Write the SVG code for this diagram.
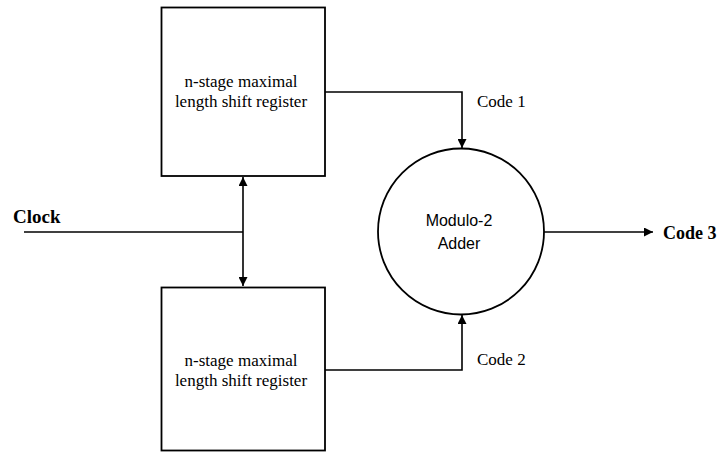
<svg xmlns="http://www.w3.org/2000/svg" width="720" height="452" viewBox="0 0 720 452">
  <style>
    .box { fill: #fff; stroke: #000; stroke-width: 1.8; }
    .wire { fill: none; stroke: #000; stroke-width: 1.6; }
    .serif { font-family: "Liberation Serif", "Times New Roman", serif; fill: #000; }
    .sans { font-family: "Liberation Sans", Arial, sans-serif; fill: #000; }
  </style>
  <defs>
    <marker id="arrow" viewBox="0 0 10 10" refX="10" refY="5" markerWidth="9" markerHeight="9" markerUnits="userSpaceOnUse" orient="auto-start-reverse">
      <path d="M0,0 L10,5 L0,10 Z" fill="#000"/>
    </marker>
  </defs>

  <rect width="720" height="452" fill="#fff"/>

  <!-- connectors -->
  <g id="connectors">
    <!-- clock feed into the shared vertical line -->
    <path class="wire" d="M24,232 H243"/>
    <path class="wire" d="M243,177 V286" marker-start="url(#arrow)" marker-end="url(#arrow)"/>
    <!-- register outputs into the adder -->
    <path class="wire" d="M325,92 H462 V148" marker-end="url(#arrow)"/>
    <path class="wire" d="M325,370 H462 V315" marker-end="url(#arrow)"/>
    <!-- adder output -->
    <path class="wire" d="M544,232 H653" marker-end="url(#arrow)"/>
  </g>

  <g id="register-top">
    <rect class="box" x="161.5" y="7.5" width="163.5" height="168.5"/>
    <text class="serif" font-size="17" text-anchor="middle" x="241" y="87">n-stage maximal</text>
    <text class="serif" font-size="17" text-anchor="middle" x="241" y="107">length shift register</text>
  </g>

  <g id="register-bottom">
    <rect class="box" x="161.5" y="287.5" width="163.5" height="163"/>
    <text class="serif" font-size="17" text-anchor="middle" x="241" y="366">n-stage maximal</text>
    <text class="serif" font-size="17" text-anchor="middle" x="241" y="386">length shift register</text>
  </g>

  <g id="adder">
    <circle class="box" cx="461" cy="231.5" r="83"/>
    <text class="sans" font-size="16" text-anchor="middle" x="459" y="226">Modulo-2</text>
    <text class="sans" font-size="16" text-anchor="middle" x="459" y="249">Adder</text>
  </g>

  <g id="labels">
    <text class="serif" font-size="19" font-weight="bold" x="13" y="223">Clock</text>
    <text class="serif" font-size="17" x="477" y="107">Code 1</text>
    <text class="serif" font-size="17" x="477" y="365">Code 2</text>
    <text class="serif" font-size="18" font-weight="bold" x="663" y="239">Code 3</text>
  </g>
</svg>
